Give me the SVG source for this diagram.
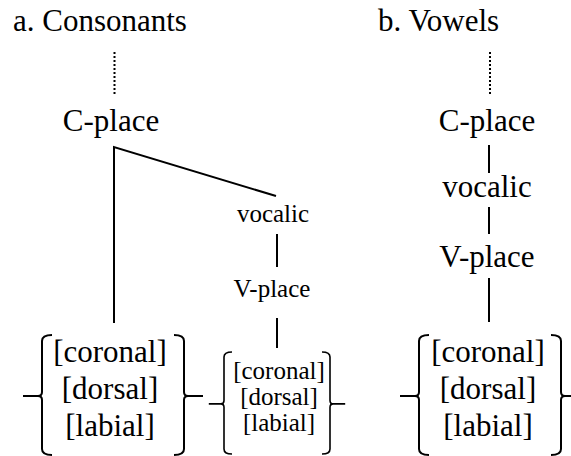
<svg xmlns="http://www.w3.org/2000/svg" width="571" height="456" viewBox="0 0 571 456" font-family="Liberation Serif">
<defs>
<path id="lbrace" d="M10,0 Q0,0 0,6 L0,57 Q0,61 -4,61 L-19,61 M-4,61 Q0,61 0,65 L0,114 Q0,120 10,120" fill="none" stroke="#000" stroke-width="2"/>
</defs>
<rect width="571" height="456" fill="#fff"/>
<g id="titles" font-family="Liberation Serif" font-size="31">
<text x="13" y="31">a. Consonants</text>
<text x="378" y="31">b. Vowels</text>
</g>
<g id="connectors" stroke="#000" stroke-width="2" fill="none">
<line stroke-dasharray="2 2" x1="114.5" y1="52" x2="114.5" y2="94"/>
<line stroke-dasharray="2 2" x1="490" y1="52" x2="490" y2="94"/>
<polyline points="114,323 114,147 276,196"/>
<line x1="277" y1="234" x2="277" y2="267"/>
<line x1="277" y1="318" x2="277" y2="348"/>
<line x1="489" y1="145" x2="489" y2="173"/>
<line x1="489" y1="207" x2="489" y2="234"/>
<line x1="489" y1="278" x2="489" y2="322"/>
</g>
<g id="a-cplace" font-family="Liberation Serif" font-size="31" text-anchor="middle"><text x="111" y="131">C-place</text></g>
<g id="a-vocalic" font-family="Liberation Serif" font-size="25" text-anchor="middle"><text x="273" y="222">vocalic</text></g>
<g id="a-vplace" font-family="Liberation Serif" font-size="25" text-anchor="middle"><text x="272" y="297">V-place</text></g>
<g id="a-features-big" font-family="Liberation Serif" font-size="31" text-anchor="middle">
<use href="#lbrace" transform="translate(42,335)"/>
<use href="#lbrace" transform="translate(184,335) scale(-1,1)"/>
<text x="110" y="362">[coronal]</text>
<text x="110" y="399">[dorsal]</text>
<text x="110" y="436">[labial]</text>
</g>
<g id="a-features-small" font-family="Liberation Serif" font-size="25" text-anchor="middle">
<use href="#lbrace" transform="translate(224,352) scale(0.8,0.85)"/>
<use href="#lbrace" transform="translate(330,352) scale(-0.8,0.85)"/>
<text x="279" y="379">[coronal]</text>
<text x="279" y="405">[dorsal]</text>
<text x="279" y="431">[labial]</text>
</g>
<g id="b-cplace" font-family="Liberation Serif" font-size="31" text-anchor="middle"><text x="487" y="131">C-place</text></g>
<g id="b-vocalic" font-family="Liberation Serif" font-size="31" text-anchor="middle"><text x="487" y="197">vocalic</text></g>
<g id="b-vplace" font-family="Liberation Serif" font-size="31" text-anchor="middle"><text x="487" y="267">V-place</text></g>
<g id="b-features" font-family="Liberation Serif" font-size="31" text-anchor="middle">
<use href="#lbrace" transform="translate(419,335)"/>
<use href="#lbrace" transform="translate(561,335) scale(-1,1)"/>
<text x="488" y="362">[coronal]</text>
<text x="488" y="399">[dorsal]</text>
<text x="488" y="436">[labial]</text>
</g>
</svg>
